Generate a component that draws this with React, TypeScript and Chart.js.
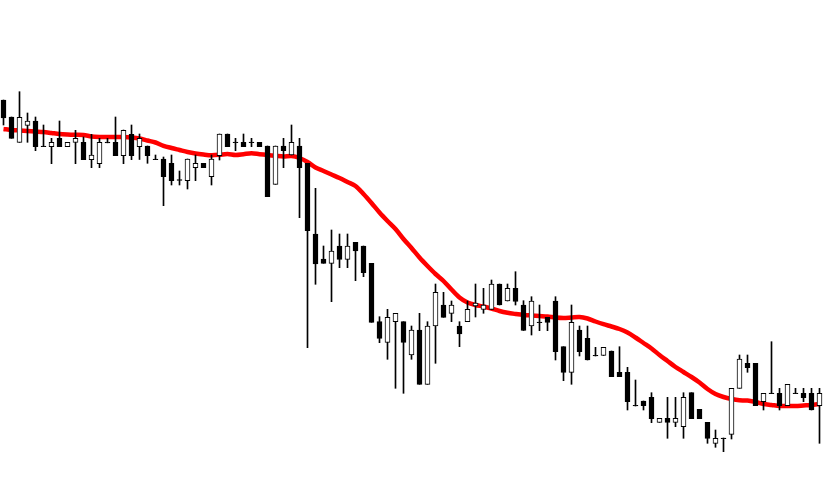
import React, { useEffect, useRef } from "react";
import { Chart, registerables } from "chart.js";

Chart.register(...registerables);

// Candle values (price units), one entry per bar
const openValues = [
  400, 383, 357.7, 374.7, 379, 354, 353.3, 361.7, 353.3, 357.7,
  357.7, 340.3, 336.3, 357.8, 357.7, 344.3, 365.7, 353.3, 354, 341,
  341, 336.7, 320.3, 319.3, 332.3, 336.7, 323.3, 344.3, 366, 358,
  357.7, 358, 357.7, 354, 315.7, 354, 345, 354, 336.7, 266,
  241, 236.7, 254, 240.7, 257.7, 254, 236.7, 178.3, 157.5, 178.3,
  178.3, 145, 170, 115.7, 174, 195, 186.7, 174, 178.3, 194,
  190.7, 190.7, 216, 199, 211.7, 195, 174, 178, 182.7, 199,
  153.3, 127.7, 170, 161.7, 144.6, 144.5, 149, 127.7, 127.7, 94.6,
  99, 102.7, 77.7, 81.7, 77.7, 73.3, 107.3, 90.7, 77.7, 56.7,
  62, 65.7, 111.7, 136.7, 136.7, 98.3, 107, 106.7, 94.3, 107,
  106.7, 106.7, 94.3,
];
const highValues = [
  400, 383, 408.3, 387, 383, 375, 361.7, 379, 357.7, 369.7,
  363, 365.7, 361.7, 361.7, 383, 370, 375, 366, 354, 345,
  343, 345, 329, 341, 345, 336.7, 345, 366, 366, 361.7,
  366, 361.7, 357.7, 354, 354, 361.7, 375, 361.7, 336.7, 311.7,
  254, 270, 266, 266, 257.7, 254, 236.7, 183.3, 190.7, 186.7,
  178.3, 174, 186.7, 178.3, 216, 207.7, 199, 178.3, 199, 216,
  211.7, 220, 216, 216, 228.3, 199.3, 203.3, 195, 182.7, 203.3,
  153.3, 195, 174, 174, 152.7, 152.7, 149, 153.3, 132.7, 120,
  99, 107.3, 81.7, 102.7, 102.7, 107.3, 107.3, 90.7, 77.7, 70,
  62, 111.7, 145, 145, 136.7, 106.7, 158.3, 111.7, 115.7, 111.7,
  111.7, 111.7, 111.7,
];
const lowValues = [
  375, 361.7, 357.7, 357.7, 349.3, 353.3, 336.3, 353.3, 353.3, 336.3,
  340.3, 332.3, 332.3, 357.2, 344.3, 336.3, 340.3, 340.5, 336.7, 340.3,
  294.3, 315, 315, 311, 319.3, 332.3, 315, 340, 353.3, 349.3,
  353.3, 353.3, 353.3, 303.3, 315.7, 332.3, 345, 282.3, 152.3, 215.7,
  236.7, 198.3, 232.3, 232.3, 219.3, 223.3, 177.7, 157.3, 140.7, 111.7,
  106.7, 140.7, 115.7, 115.7, 136.7, 182.7, 178.3, 153.3, 178.3, 183,
  186.7, 190.7, 195, 199, 195, 169.5, 165, 169.3, 169.3, 140,
  119.3, 115.7, 144, 140, 144, 144.5, 123.3, 123.3, 90, 94,
  90, 77.3, 77.7, 61.7, 73.3, 61.7, 81.3, 81.3, 56.7, 52.7,
  48.3, 61, 111.7, 127.7, 94.3, 90, 106.4, 90, 94.3, 106.4,
  98.3, 90, 56.7,
];
const closeValues = [
  382, 361.7, 382.7, 379, 353.3, 353.3, 357.7, 353.3, 357.7, 361.7,
  340.3, 345, 357.7, 357.2, 344.3, 369.7, 344.3, 361.7, 344.3, 340.3,
  323.3, 319.3, 319.7, 341, 336.7, 332.3, 341, 366, 353.3, 357.4,
  353.3, 357.4, 353.3, 303.3, 354, 349.3, 357.7, 332.3, 269.3, 236,
  236.7, 249, 240.7, 254, 249, 227.3, 177.7, 161.7, 182.7, 186.7,
  157.7, 170, 115.7, 174, 207.7, 182.7, 195, 166, 190.7, 197,
  195, 216, 195, 211.7, 198.5, 169.5, 199, 177.4, 177.7, 148.3,
  127.7, 177.7, 148.3, 140, 144, 152.7, 123.3, 123.3, 98.3, 94,
  94.3, 81.3, 81.7, 77.7, 81.7, 102.7, 81.3, 81.3, 61.7, 61.7,
  61.4, 111.7, 141, 132.3, 94.3, 106.7, 106.4, 94.3, 115.7, 106.4,
  102.3, 90, 106.7,
];
// Moving average line (red)
const maValues = [
  371, 370, 369.5, 369, 368.5, 368, 367, 366, 365.5, 365.2,
  365, 363.5, 363, 363, 363, 363, 362.5, 361.5, 359.5, 357.5,
  354.2, 352, 350, 348, 346.5, 345.5, 344.8, 345.2, 346, 345,
  345.8, 346.7, 345.8, 345, 344.2, 343.5, 344, 342, 338, 332.5,
  329, 325.5, 322, 318, 314, 306, 297, 287.5, 279, 271,
  261, 252, 242.5, 234, 226, 219, 210.5, 202.5, 197.5, 195,
  193.5, 191.5, 189, 187.2, 186, 185, 184.5, 184, 183.5, 182.5,
  182, 182.5, 183, 181.5, 178.5, 175.8, 173.5, 171, 167.5, 162.5,
  157, 151.5, 145, 139, 133, 128, 123, 117.5, 111, 106,
  103, 101, 99.7, 99.5, 98, 96, 95, 94, 94, 94,
  94.5, 95, 96,
];

const W = 823;
const H = 487;

export default function App() {
  const ref = useRef<HTMLCanvasElement | null>(null);

  useEffect(() => {
    document.body.style.margin = "0";
    const canvas = ref.current;
    if (!canvas) return;
    const n = openValues.length;
    const idx = Array.from({ length: n }, (_, i) => i);
    const bull = idx.map((i) => closeValues[i] > openValues[i]);

    const chart = new Chart(canvas, {
      type: "bar",
      data: {
        datasets: [
          {
            type: "line",
            label: "MA",
            data: idx.map((i) => ({ x: i, y: maValues[i] })),
            borderColor: "#ff0000",
            borderWidth: 4.5,
            pointRadius: 0,
            tension: 0.3,
            fill: false,
            order: 3,
          } as any,
          {
            label: "wick",
            data: idx.map((i) => ({ x: i, y: [lowValues[i], highValues[i]] })),
            backgroundColor: "#000000",
            borderWidth: 0,
            barThickness: 1,
            grouped: false,
            order: 2,
          } as any,
          {
            label: "body",
            data: idx.map((i) => ({ x: i, y: [openValues[i], closeValues[i]] })),
            backgroundColor: idx.map((i) => (bull[i] ? "#ffffff" : "#000000")),
            borderColor: "#000000",
            borderWidth: 1,
            borderSkipped: false,
            barThickness: 5,
            grouped: false,
            order: 1,
          } as any,
        ],
      },
      options: {
        animation: false,
        responsive: false,
        maintainAspectRatio: false,
        layout: { padding: 0 },
        plugins: { legend: { display: false }, tooltip: { enabled: false } },
        scales: {
          x: {
            type: "linear",
            display: false,
            min: -0.4375,
            max: 102.4375,
            offset: false,
          },
          y: {
            type: "linear",
            display: false,
            min: 13,
            max: 500,
          },
        },
      },
    });
    return () => chart.destroy();
  }, []);

  return (
    <div style={{ position: "fixed", left: 0, top: 0, width: W, height: H, background: "#ffffff" }}>
      <canvas ref={ref} width={W} height={H} style={{ width: W, height: H, display: "block" }} />
    </div>
  );
}
